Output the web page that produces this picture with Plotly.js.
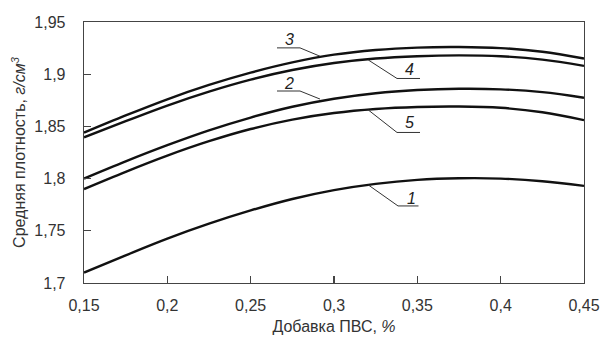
<!DOCTYPE html>
<html>
<head>
<meta charset="utf-8">
<script src="https://cdn.plot.ly/plotly-3.0.1.min.js"></script>
<style>html,body{margin:0;padding:0;background:#fff;}#chart{width:603px;height:341px;}</style>
</head>
<body>
<div id="chart"></div>
<script>
// Data
const pvaDose = [0.15, 0.175, 0.2, 0.225, 0.25, 0.275, 0.3, 0.325, 0.35, 0.375, 0.4, 0.425, 0.45];
const curve1 = [1.710, 1.7265, 1.7425, 1.7568, 1.7695, 1.7805, 1.7890, 1.7950, 1.7988, 1.8003, 1.8000, 1.7975, 1.793];
const curve2 = [1.800, 1.8165, 1.832, 1.8462, 1.8585, 1.8688, 1.8765, 1.8818, 1.8848, 1.886, 1.8855, 1.8828, 1.8775];
const curve3 = [1.844, 1.8605, 1.876, 1.8897, 1.9015, 1.9113, 1.9187, 1.9232, 1.9255, 1.926, 1.925, 1.9215, 1.915];
const curve4 = [1.8395, 1.855, 1.870, 1.8833, 1.8948, 1.9040, 1.9107, 1.915, 1.9172, 1.918, 1.9172, 1.914, 1.908];
const curve5 = [1.790, 1.8065, 1.822, 1.8358, 1.8475, 1.8565, 1.8628, 1.8667, 1.8686, 1.8690, 1.8678, 1.8635, 1.856];
const curveNames = ['1', '2', '3', '4', '5'];
const xTicks = [0.15, 0.2, 0.25, 0.3, 0.35, 0.4, 0.45];
const yTicks = [1.7, 1.75, 1.8, 1.85, 1.9, 1.95];

const series = [curve1, curve2, curve3, curve4, curve5];
const traces = series.map((ys, i) => ({
  x: pvaDose, y: ys, name: curveNames[i], type: 'scatter', mode: 'lines',
  line: {color: '#111', width: 2.4, shape: 'spline', smoothing: 1},
  hoverinfo: 'skip'
}));

const labelSpecs = [
  {name: '3', tx: 0.273, ty: 1.9330, uy: 1.9252, ux0: 0.2658, ux1: 0.2796, lx: 0.2916, ly: 1.9172, fromEnd: true},
  {name: '2', tx: 0.273, ty: 1.8912, uy: 1.8839, ux0: 0.2658, ux1: 0.2796, lx: 0.2916, ly: 1.8762, fromEnd: true},
  {name: '4', tx: 0.3450, ty: 1.9047, uy: 1.8959, ux0: 0.3378, ux1: 0.3516, lx: 0.3206, ly: 1.9136, fromEnd: false},
  {name: '5', tx: 0.3450, ty: 1.8535, uy: 1.8442, ux0: 0.3378, ux1: 0.3516, lx: 0.3206, ly: 1.8657, fromEnd: false},
  {name: '1', tx: 0.3462, ty: 1.7812, uy: 1.7738, ux0: 0.3384, ux1: 0.3507, lx: 0.3206, ly: 1.7939, fromEnd: false}
];

const fam = 'Liberation Sans, Arial, sans-serif';

const annotations = labelSpecs.map(s => ({
  x: s.tx, y: s.ty, xref: 'x', yref: 'y', text: '<i>' + s.name + '</i>',
  showarrow: false, font: {family: fam, size: 16, color: '#222'},
  xanchor: 'center', yanchor: 'middle'
}));

const shapes = labelSpecs.map(s => {
  const jx = s.fromEnd ? s.ux1 : s.ux0;
  const other = s.fromEnd ? s.ux0 : s.ux1;
  return {
    type: 'path', xref: 'x', yref: 'y',
    path: `M ${other},${s.uy} L ${jx},${s.uy} L ${s.lx},${s.ly}`,
    line: {color: '#333', width: 1}
  };
});

const layout = {
  width: 603, height: 341,
  margin: {l: 84, r: 19, t: 22, b: 58},
  paper_bgcolor: '#fff', plot_bgcolor: '#fff',
  separators: ', ',
  showlegend: false,
  font: {family: fam, size: 16, color: '#333'},
  xaxis: {
    range: [0.15, 0.45], tickvals: xTicks, ticks: 'inside', ticklen: 7, tickwidth: 1.2, tickcolor: '#444',
    showline: true, linecolor: '#444', linewidth: 1.3, mirror: true, showgrid: false, zeroline: false,
    ticklabelstandoff: 7,
    tickfont: {family: fam, size: 16, color: '#333'},
    title: {text: 'Добавка ПВС, <i>%</i>', font: {family: fam, size: 16, color: '#333'}, standoff: 8}
  },
  yaxis: {
    range: [1.7, 1.95], tickvals: yTicks, ticks: 'inside', ticklen: 7, tickwidth: 1.2, tickcolor: '#444',
    showline: true, linecolor: '#444', linewidth: 1.3, mirror: true, showgrid: false, zeroline: false,
    ticklabelstandoff: 14,
    tickfont: {family: fam, size: 16, color: '#333'},
    title: {text: 'Средняя плотность, <i>г/см<sup>3</sup></i>', font: {family: fam, size: 16, color: '#333'}, standoff: 4}
  },
  annotations: annotations,
  shapes: shapes
};

Plotly.newPlot('chart', traces, layout, {displayModeBar: false, staticPlot: true});
</script>
</body>
</html>
